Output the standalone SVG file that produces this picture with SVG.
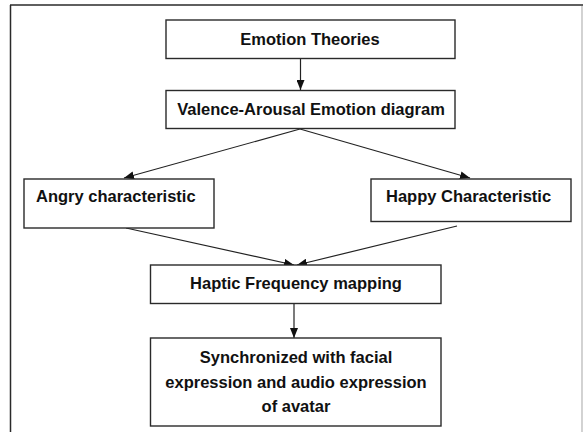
<svg xmlns="http://www.w3.org/2000/svg" width="583" height="432" viewBox="0 0 583 432">
<defs>
<style>
.box{fill:#fff;stroke:#2a2a2a;stroke-width:1.4}
.t{font-family:"Liberation Sans",Arial,sans-serif;font-weight:bold;font-size:16.5px;fill:#111}
.c{text-anchor:middle}
.conn{stroke:#222;stroke-width:1.2;fill:none;marker-end:url(#ah)}
</style>
<marker id="ah" viewBox="0 0 10 8" refX="10" refY="4" markerWidth="10" markerHeight="8" markerUnits="userSpaceOnUse" orient="auto">
<path d="M0,0 L10,4 L0,8 Z" fill="#111"/>
</marker>
</defs>
<rect width="583" height="432" fill="#fff"/>
<g id="frame">
<line x1="10.5" y1="5" x2="10.5" y2="432" stroke="#2a2a2a" stroke-width="1.5"/>
<line x1="10" y1="5" x2="583" y2="5" stroke="#2a2a2a" stroke-width="1.5"/>
<line x1="582" y1="6" x2="582" y2="432" stroke="#b5b5b5" stroke-width="1.2"/>
</g>
<g id="connectors">
<line class="conn" x1="300.5" y1="59" x2="300.5" y2="90"/>
<line class="conn" x1="300" y1="129" x2="124" y2="178"/>
<line class="conn" x1="300" y1="129" x2="470" y2="178"/>
<line class="conn" x1="126" y1="228" x2="294" y2="265"/>
<line class="conn" x1="457" y1="226" x2="297" y2="265"/>
<line class="conn" x1="294" y1="303.5" x2="294" y2="338"/>
</g>
<g id="emotion-theories">
<rect class="box" x="166" y="20" width="289" height="38.5"/>
<text class="t c" x="310" y="44.5">Emotion Theories</text>
</g>
<g id="valence-arousal">
<rect class="box" x="166" y="90.5" width="289" height="38"/>
<text class="t c" x="311" y="115">Valence-Arousal Emotion diagram</text>
</g>
<g id="angry">
<rect class="box" x="24" y="179" width="190" height="49"/>
<text class="t" x="36" y="202">Angry characteristic</text>
</g>
<g id="happy">
<rect class="box" x="371" y="179" width="200" height="42.5"/>
<text class="t" x="386" y="202">Happy Characteristic</text>
</g>
<g id="haptic">
<rect class="box" x="150.5" y="265" width="290.5" height="38.5"/>
<text class="t c" x="296" y="289">Haptic Frequency mapping</text>
</g>
<g id="synchronized">
<rect class="box" x="150.5" y="338" width="290.5" height="88"/>
<text class="t c" x="296" y="363">Synchronized with facial</text>
<text class="t c" x="296" y="387.5">expression and audio expression</text>
<text class="t c" x="296" y="412">of avatar</text>
</g>
</svg>
